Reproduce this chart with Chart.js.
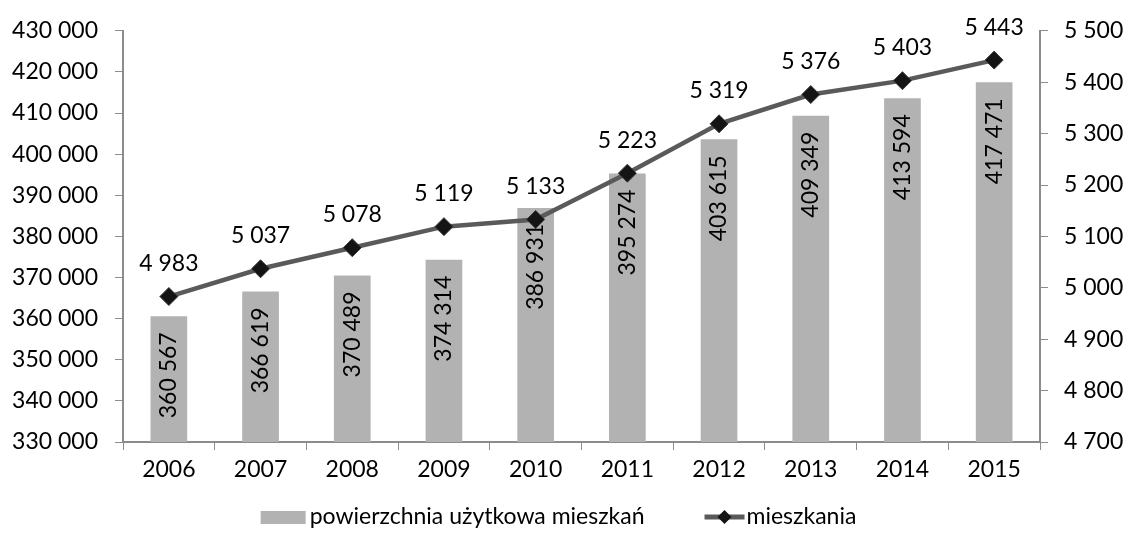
<!DOCTYPE html>
<html>
<head>
<meta charset="utf-8">
<script src="https://cdn.jsdelivr.net/npm/chart.js@4"></script>
<style>
  html, body { margin:0; padding:0; background:#fff; }
  #box { width:1129px; height:548px; }
</style>
</head>
<body>
<div id="box"><canvas id="graf1" width="1129" height="548"></canvas></div>
<script>
const LATA = ['2006','2007','2008','2009','2010','2011','2012','2013','2014','2015'];
const POWIERZCHNIA = [360567,366619,370489,374314,386931,395274,403615,409349,413594,417471];
const MIESZKANIA = [4983,5037,5078,5119,5133,5223,5319,5376,5403,5443];

const FONT = "Lato, 'Open Sans', sans-serif";
const FSIZE = 23;
const COR = { bar:'#b2b2b2', linia:'#5a5a5a', punkt:'#141414', os:'#8c8c8c', tekst:'#000' };

function fmt(v){
    return String(v).replace(/\B(?=(\d{3})+(?!\d))/g, ' ');
}

// etykiety słupków (pionowe) i punktów linii
const etykiety = {
    id:'etykiety',
    afterDatasetsDraw(chart){
        const ctx = chart.ctx;
        ctx.save();
        ctx.font = FSIZE + 'px ' + FONT;
        ctx.fillStyle = COR.tekst;
        chart.getDatasetMeta(0).data.forEach((bar, i) => {
            ctx.save();
            ctx.translate(bar.x, bar.y + 16);
            ctx.rotate(-Math.PI/2);
            ctx.textAlign = 'right';
            ctx.textBaseline = 'middle';
            ctx.fillText(fmt(POWIERZCHNIA[i]), 0, 0);
            ctx.restore();
        });
        ctx.textAlign = 'center';
        ctx.textBaseline = 'middle';
        chart.getDatasetMeta(1).data.forEach((pt, i) => {
            ctx.fillText(fmt(MIESZKANIA[i]), pt.x, pt.y - 33);
        });
        ctx.restore();
    }
};

// legenda rysowana ręcznie (linia z rombem)
const legenda = {
    id:'legenda',
    afterDraw(chart){
        const ctx = chart.ctx;
        const y = 517;
        ctx.save();
        ctx.font = FSIZE + 'px ' + FONT;
        ctx.textBaseline = 'middle';
        ctx.fillStyle = COR.tekst;
        const t1 = chart.data.datasets[0].label;
        const t2 = chart.data.datasets[1].label;
        const w1 = ctx.measureText(t1).width;
        const w2 = ctx.measureText(t2).width;
        const total = 45 + 4 + w1 + 60 + 40 + 2 + w2;
        let x = (chart.width - total) / 2 - 6;
        ctx.fillStyle = COR.bar;
        ctx.fillRect(x, y - 6, 45, 13);
        x += 49;
        ctx.fillStyle = COR.tekst;
        ctx.fillText(t1, x, y);
        x += w1 + 60;
        ctx.strokeStyle = COR.linia;
        ctx.lineWidth = 5;
        ctx.beginPath();
        ctx.moveTo(x, y); ctx.lineTo(x + 40, y);
        ctx.stroke();
        ctx.fillStyle = COR.punkt;
        ctx.beginPath();
        ctx.moveTo(x + 20, y - 7); ctx.lineTo(x + 27, y); ctx.lineTo(x + 20, y + 7); ctx.lineTo(x + 13, y);
        ctx.closePath();
        ctx.fill();
        x += 42;
        ctx.fillStyle = COR.tekst;
        ctx.fillText(t2, x, y);
        ctx.restore();
    }
};

function wykres(){
    let ctx = document.getElementById('graf1');
    let config = {
        type:'bar',
        data:{
            labels: LATA,
            datasets:[{
                label:'powierzchnia użytkowa mieszkań',
                data: POWIERZCHNIA,
                backgroundColor: COR.bar,
                barPercentage: 0.8,
                categoryPercentage: 0.5,
                yAxisID:'y',
                order:2
            },
            {
                label:'mieszkania',
                type:'line',
                data: MIESZKANIA,
                borderColor: COR.linia,
                borderWidth: 4.5,
                pointStyle:'rectRot',
                pointRadius: 9,
                pointBackgroundColor: COR.punkt,
                pointBorderColor: '#3a3a3a',
                pointBorderWidth: 1,
                yAxisID:'y1',
                order:1
            }]
        },
        options:{
            responsive:false,
            animation:false,
            layout:{ padding:{ top:29, bottom:0, left:0, right:0 } },
            scales:{
                x:{
                    grid:{ display:true, drawOnChartArea:false, tickLength:8, color:COR.os, offset:true },
                    border:{ display:true, color:COR.os, width:2 },
                    ticks:{ color:COR.tekst, font:{ family:FONT, size:FSIZE }, padding:6, maxRotation:0 },
                    afterFit(s){ s.height = 106; }
                },
                y:{
                    position:'left',
                    min:330000, max:430000,
                    grid:{ display:true, drawOnChartArea:false, tickLength:8, color:COR.os },
                    border:{ display:true, color:COR.os, width:2 },
                    ticks:{ stepSize:10000, color:COR.tekst, font:{ family:FONT, size:FSIZE }, padding:17,
                        callback:(v) => fmt(v) },
                    afterFit(s){ s.width = 123; }
                },
                y1:{
                    position:'right',
                    min:4700, max:5500,
                    grid:{ display:true, drawOnChartArea:false, tickLength:8, color:COR.os },
                    border:{ display:true, color:COR.os, width:2 },
                    ticks:{ stepSize:100, color:COR.tekst, font:{ family:FONT, size:FSIZE }, padding:16,
                        callback:(v) => fmt(v) },
                    afterFit(s){ s.width = 89; }
                }
            },
            plugins:{
                legend:{ display:false },
                tooltip:{ enabled:false }
            }
        },
        plugins:[etykiety, legenda]
    };
    new Chart(ctx, config);
}
wykres();
</script>
</body>
</html>
